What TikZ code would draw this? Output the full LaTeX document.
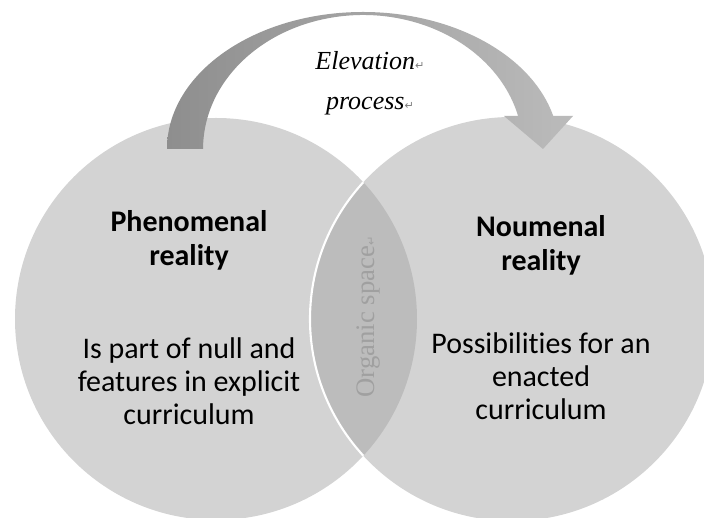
\documentclass[tikz,border=0pt]{standalone}
\usepackage{fontspec}
\setmainfont{Carlito}[Ligatures=NoCommon]
\newfontfamily\elevfont{Liberation Serif}
\newfontfamily\markfont{DejaVu Sans}
\usepackage{tikz}
\usetikzlibrary{positioning}

\definecolor{discgray}{HTML}{D3D3D3}
\definecolor{lensgray}{HTML}{BCBCBC}
\definecolor{arrowdark}{HTML}{8E8E8E}
\definecolor{arrowlight}{HTML}{BBBBBB}
\definecolor{organicgray}{HTML}{A0A0A0}
\newcommand{\retmark}[1]{{\markfont\fontsize{8}{8}\selectfont\textcolor{#1}{↵}}}

\begin{document}
\begin{tikzpicture}[x=0.025cm,y=0.025cm,
		headtext/.style={font=\fontsize{21.3}{24.5}\selectfont\bfseries,align=center},
		bodytext/.style={font=\fontsize{21.3}{23.5}\selectfont,align=center}]
		\useasboundingbox (0,0) rectangle (704,518);
		\clip (0,0) rectangle (704,518);
		\fill[white] (0,0) rectangle (704,518);
		% the two discs and the organic space between them
		\fill[discgray] (216,199) circle(201);
		\fill[discgray] (512,199) circle(202);
		\begin{scope}
			\clip (216,199) circle(201);
			\fill[lensgray] (512,199) circle(202);
			\draw[white,line width=1.5pt] (512,199) circle(202);
		\end{scope}
		% elevation arrow
		\shade[left color=arrowdark,right color=arrowlight] (167,369)
			arc[start angle=180,end angle=13.94,x radius=196,y radius=137]
			-- (573,402) -- (543,369) -- (504,402) -- (518.1,402)
			arc[start angle=14.26,end angle=180,x radius=160,y radius=134] -- cycle;
		\node[font=\elevfont\itshape\fontsize{18.5}{28.5}\selectfont,align=center] (elev) at (370,435)
			{Elevation\retmark{gray}\\process\retmark{gray}};
		\node[rotate=90,text=organicgray,font=\elevfont\fontsize{19}{19}\selectfont] (organic) at (369,201)
			{Organic space\retmark{organicgray}};
		\node[headtext] (phentitle) at (189,277.5) {Phenomenal\\reality};
		\node[bodytext] (phenbody) at (189,137) {Is part of null and\\features in explicit\\curriculum};
		\node[headtext] (noumtitle) at (541,272.5) {Noumenal\\reality};
		\node[bodytext] (noumbody) at (541,142) {Possibilities for an\\enacted\\curriculum};
\end{tikzpicture}
\end{document}
